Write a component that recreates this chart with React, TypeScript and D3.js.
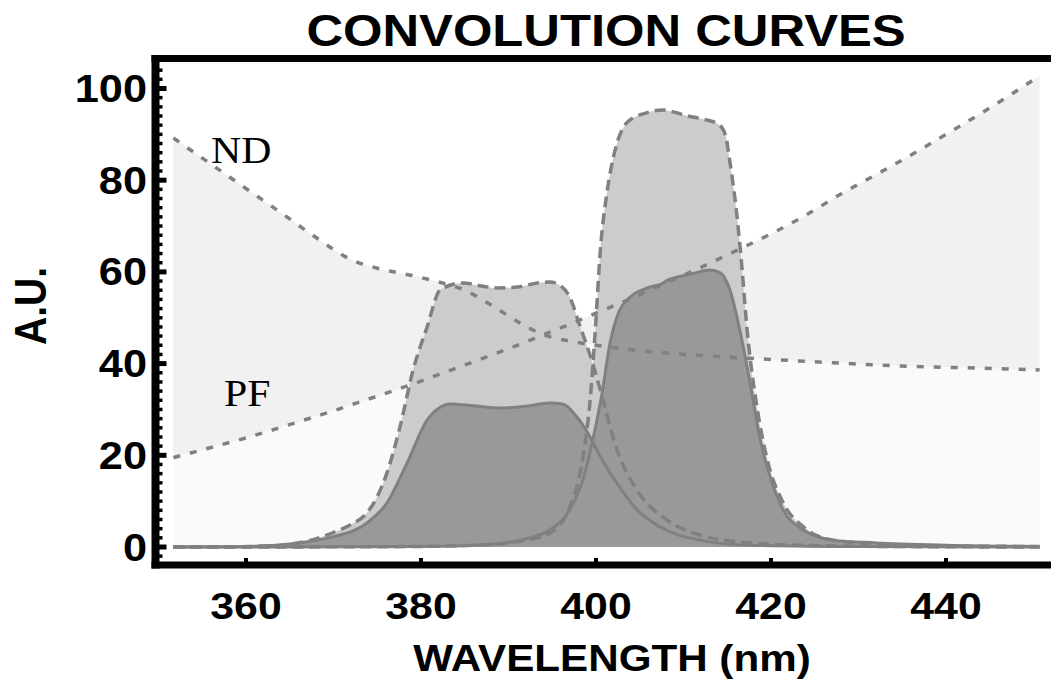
import React from "react";
import * as d3 from "d3";

// ---- data ----
const bgWl = [351.7, 356, 360, 364, 368, 370, 372, 375, 379, 382, 385, 388, 391, 394, 397, 400, 404, 408, 412, 416, 420, 424, 428, 432, 436, 440, 444, 448, 450.7];
const ndVal = [89.2, 83.5, 78.2, 72.9, 67.5, 64.9, 62.7, 60.8, 59.2, 57.8, 56.0, 52.8, 49.2, 46.3, 44.9, 44.0, 43.0, 42.3, 41.8, 41.3, 40.9, 40.5, 40.1, 39.7, 39.4, 39.2, 39.0, 38.8, 38.6];
const pfVal = [19.5, 21.7, 23.8, 26.1, 28.5, 29.7, 31.0, 32.9, 35.5, 37.6, 39.7, 41.8, 44.0, 46.3, 48.6, 51.0, 54.2, 57.6, 61.0, 64.6, 68.3, 72.4, 77.0, 81.2, 85.5, 90.0, 94.6, 99.4, 102.8];

const peakAWl = [351.7, 358, 362, 364.2, 367, 369.9, 372, 373.8, 375, 376.1, 377.6, 379.1, 380.7, 382.2, 384.8, 386.7, 388.7, 391, 393.3, 394.7, 396, 397, 398.2, 399.5, 400.5, 402.4, 404.7, 408.1, 411.9, 417.6, 425, 435, 450.7];
const peakAVal = [0, 0.05, 0.2, 0.4, 1.3, 3.1, 4.9, 7.4, 11, 16.1, 26.2, 38.6, 48.0, 56.1, 57.6, 57.0, 56.5, 56.7, 57.6, 57.8, 56.9, 54.5, 48.0, 40.8, 34.2, 21.2, 12.4, 5.9, 2.6, 0.9, 0.3, 0.1, 0];

const peakBWl = [351.7, 375, 385, 390, 392.5, 394.7, 397.0, 398.5, 399.3, 399.9, 400.5, 401.3, 402.0, 403.5, 405.8, 407.7, 408.8, 410.5, 412.5, 414.0, 414.8, 415.3, 415.9, 416.5, 417.3, 418.4, 419.5, 421.4, 423.7, 427.1, 435, 450.7];
const peakBVal = [0, 0.05, 0.3, 0.9, 1.7, 3.0, 8.7, 19.6, 31.4, 46.7, 64.8, 77.9, 85.1, 92.5, 94.7, 95.3, 94.9, 94.0, 93.2, 92.2, 89.8, 84.0, 75.7, 64.8, 46.7, 30.5, 19.6, 9.6, 4.4, 1.5, 0.4, 0.1];

const convCWl = [351.7, 358, 363.5, 366.5, 369.9, 373.8, 376.1, 378.4, 380.7, 382.2, 383.3, 386, 389.0, 392, 394.7, 396.2, 397.8, 399.3, 400.5, 402.4, 404.7, 407.3, 411.9, 417.6, 430, 450.7];
const convCVal = [0, 0.05, 0.4, 1.0, 2.2, 5.2, 9.6, 18.3, 27.7, 30.5, 31.2, 30.8, 30.3, 30.7, 31.4, 31.2, 28.4, 24.1, 19.7, 13.9, 8.1, 4.4, 1.5, 0.4, 0.1, 0];

const convDWl = [351.7, 380, 388, 392, 394.7, 397.0, 398.5, 399.7, 400.7, 401.6, 402.4, 403.9, 406.2, 407.5, 408.3, 409.3, 411, 413.0, 414.2, 415.3, 416.5, 417.6, 418.7, 419.9, 421.4, 423.7, 427.1, 432, 440, 450.7];
const convDVal = [0, 0.1, 0.6, 1.8, 3.7, 8.1, 14.6, 24.0, 33.6, 44.5, 50.2, 54.5, 56.7, 57.4, 58.3, 58.9, 59.6, 60.4, 59.8, 56.1, 46.7, 35.8, 24.0, 15.3, 8.1, 3.7, 1.5, 0.9, 0.4, 0.1];

const xTicks = [360, 380, 400, 420, 440];
const yTicks = [0, 20, 40, 60, 80, 100];
const yMinorTicks = d3.range(-2, 106, 2).filter((v) => v % 20 !== 0);

const title = "CONVOLUTION CURVES";
const xTitle = "WAVELENGTH (nm)";
const yTitle = "A.U.";
const ndLabel = "ND";
const pfLabel = "PF";

// ---- layout ----
const W = 1051;
const H = 681;
const x = d3.scaleLinear().domain([360, 440]).range([246, 946]);
const y = d3.scaleLinear().domain([0, 100]).range([547, 88.5]);

const frameLeft = 155.5;
const frameTop = 58.5;
const frameBottom = 565;
const frameRight = 1070;

type P = [number, number];
const zip = (wl: number[], v: number[]): P[] => wl.map((w, i) => [w, v[i]]);

const lineGen = d3
  .line<P>()
  .x((d) => x(d[0]))
  .y((d) => y(d[1]))
  .curve(d3.curveMonotoneX);

const areaGen = d3
  .area<P>()
  .x((d) => x(d[0]))
  .y0(y(0))
  .y1((d) => y(d[1]))
  .curve(d3.curveMonotoneX);

type Q = [number, number, number];
const betweenGen = d3
  .area<Q>()
  .x((d) => x(d[0]))
  .y0((d) => y(d[1]))
  .y1((d) => y(d[2]))
  .curve(d3.curveMonotoneX);

const ndPts = zip(bgWl, ndVal);
const pfPts = zip(bgWl, pfVal);
const minPts: P[] = bgWl.map((w, i) => [w, Math.min(ndVal[i], pfVal[i])]);
const betweenPts: Q[] = bgWl.map((w, i) => [w, ndVal[i], pfVal[i]]);
const aPts = zip(peakAWl, peakAVal);
const bPts = zip(peakBWl, peakBVal);
const cPts = zip(convCWl, convCVal);
const dPts = zip(convDWl, convDVal);

const LINE = "#808080";
const SANS = "'Liberation Sans', Arial, Helvetica, sans-serif";
const SERIF = "'Liberation Serif', 'Times New Roman', serif";
const SX = 1.14; // horizontal stretch of the reference text

export default function App() {
  return (
    <svg
      width={W}
      height={H}
      viewBox={`0 0 ${W} ${H}`}
      style={{ position: "absolute", left: 0, top: 0, background: "#fff" }}
    >
      {/* background fills */}
      <path d={areaGen(minPts) || ""} fill="#fafafa" />
      <path d={betweenGen(betweenPts) || ""} fill="#f1f1f1" />

      {/* filter curves fills */}
      <path d={areaGen(aPts) || ""} fill="#cccccc" />
      <path d={areaGen(bPts) || ""} fill="#cccccc" />
      {/* convolution fills */}
      <path d={areaGen(cPts) || ""} fill="#999999" />
      <path d={areaGen(dPts) || ""} fill="#999999" />

      {/* lines */}
      <path d={lineGen(cPts) || ""} fill="none" stroke={LINE} strokeWidth={3} />
      <path d={lineGen(dPts) || ""} fill="none" stroke={LINE} strokeWidth={3} />
      <path d={lineGen(aPts) || ""} fill="none" stroke={LINE} strokeWidth={3.5} strokeDasharray="11,6" />
      <path d={lineGen(bPts) || ""} fill="none" stroke={LINE} strokeWidth={3.5} strokeDasharray="11,6" />
      <path d={lineGen(ndPts) || ""} fill="none" stroke={LINE} strokeWidth={3.5} strokeDasharray="7,10" />
      <path d={lineGen(pfPts) || ""} fill="none" stroke={LINE} strokeWidth={3.5} strokeDasharray="7,10" />

      {/* frame */}
      <line x1={frameLeft - 4} x2={frameRight} y1={frameTop} y2={frameTop} stroke="#000" strokeWidth={7} />
      <line x1={frameLeft - 4} x2={frameRight} y1={frameBottom} y2={frameBottom} stroke="#000" strokeWidth={7} />
      <line x1={frameLeft} x2={frameLeft} y1={frameTop - 3.5} y2={frameBottom + 3.5} stroke="#000" strokeWidth={8} />

      {/* y ticks */}
      {yMinorTicks.map((v) => (
        <line key={"m" + v} x1={frameLeft} x2={frameLeft + 7} y1={y(v)} y2={y(v)} stroke="#000" strokeWidth={3.5} />
      ))}
      {yTicks.map((v) => (
        <line key={"t" + v} x1={frameLeft} x2={frameLeft + 11} y1={y(v)} y2={y(v)} stroke="#000" strokeWidth={5} />
      ))}
      {yTicks.map((v) => (
        <text
          key={"l" + v}
          transform={`translate(147,${y(v) + 13.5}) scale(${SX},1)`}
          textAnchor="end"
          fontFamily={SANS}
          fontWeight="bold"
          fontSize={38}
          fill="#000"
        >
          {v}
        </text>
      ))}

      {/* x ticks */}
      {xTicks.map((v) => (
        <line key={"xt" + v} x1={x(v)} x2={x(v)} y1={frameBottom} y2={frameBottom - 7} stroke="#000" strokeWidth={4} />
      ))}
      {xTicks.map((v) => (
        <text
          key={"xl" + v}
          transform={`translate(${x(v)},619) scale(${SX},1)`}
          textAnchor="middle"
          fontFamily={SANS}
          fontWeight="bold"
          fontSize={37.5}
          fill="#000"
        >
          {v}
        </text>
      ))}

      {/* titles */}
      <text
        transform={`translate(606,46) scale(${SX},1)`}
        textAnchor="middle"
        fontFamily={SANS}
        fontWeight="bold"
        fontSize={44.5}
        fill="#000"
      >
        {title}
      </text>
      <text
        transform={`translate(612,671) scale(${SX},1)`}
        textAnchor="middle"
        fontFamily={SANS}
        fontWeight="bold"
        fontSize={37}
        fill="#000"
      >
        {xTitle}
      </text>
      <text
        transform={`translate(46,306) rotate(-90) scale(1,${SX})`}
        textAnchor="middle"
        fontFamily={SANS}
        fontWeight="bold"
        fontSize={39}
        fill="#000"
      >
        {yTitle}
      </text>

      {/* curve labels */}
      <text transform={`translate(211,163) scale(1.1,1)`} fontFamily={SERIF} fontSize={38} fill="#000">
        {ndLabel}
      </text>
      <text transform={`translate(224,406) scale(1.1,1)`} fontFamily={SERIF} fontSize={38} fill="#000">
        {pfLabel}
      </text>
    </svg>
  );
}
